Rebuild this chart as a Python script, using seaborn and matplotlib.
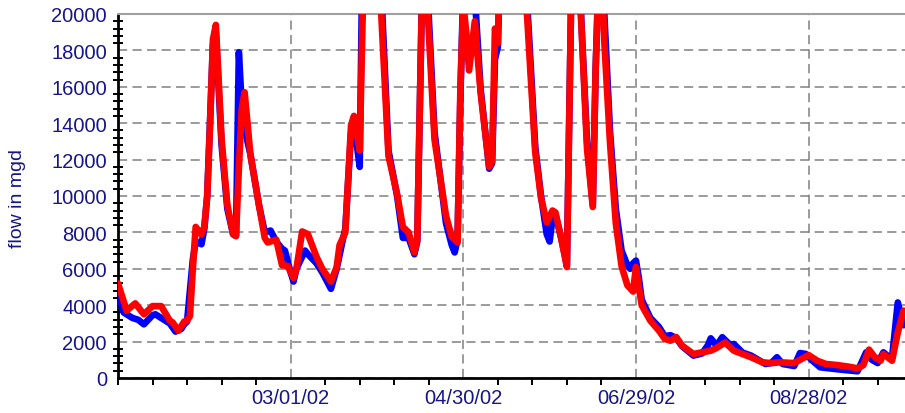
import pandas as pd
import matplotlib
matplotlib.use("Agg")
import matplotlib.pyplot as plt
import matplotlib.dates as mdates
from matplotlib.ticker import MultipleLocator
import seaborn as sns

# day 0 of the record
START = "2001-12-31"
END_DAY = 273.5

# blue series: days after START, flow in mgd
blue_days = [0, 2, 3, 5, 7, 9, 12, 13, 16, 18, 20, 22, 23, 24, 26, 27, 29, 30,
             31, 33, 34, 36, 38, 40, 41, 42, 43, 44, 46, 49, 51, 53, 55, 57, 58,
             60, 61, 62, 65, 66, 69, 71, 74, 76, 78, 79, 81, 82, 84, 85, 88, 91,
             94, 97, 99, 101, 103, 104, 106, 107, 110, 114, 116, 117, 118, 119,
             120, 122, 124, 126, 129, 130, 131, 132, 133, 136, 139, 141, 145,
             147, 149, 150, 151, 152, 154, 156, 158, 160, 163, 165, 166, 167,
             168, 169, 171, 173, 175, 177, 178, 179, 180, 181, 182, 185, 188,
             190, 192, 194, 196, 200, 203, 205, 206, 208, 210, 213, 214, 217,
             220, 225, 227, 229, 231, 235, 237, 239, 241, 244, 250, 257, 260,
             262, 264, 266, 268, 269, 271, 273]
blue_flow = [4700, 3600, 3500, 3300, 3200, 2950, 3450, 3500, 3200, 3000, 2550,
             2700, 2950, 3100, 6500, 7500, 7350, 8200, 10000, 18300, 19000,
             12800, 9300, 7900, 7800, 17900, 15000, 13700, 12300, 9500, 8000,
             8100, 7500, 7100, 7000, 5800, 5300, 6000, 7000, 6800, 6300, 5800,
             4900, 6000, 7500, 8200, 13500, 14000, 11600, 24000, 32000, 23000,
             12500, 10000, 7700, 7700, 6800, 7500, 24000, 23000, 13500, 8500,
             7300, 6900, 7600, 15500, 21500, 20500, 21000, 15900, 11500, 11800,
             17500, 18200, 24000, 33000, 34000, 24000, 12700, 10000, 7900, 7500,
             8800, 9000, 7700, 6200, 26000, 23000, 13000, 9500, 17000, 22000,
             24000, 20000, 13500, 9300, 7000, 6200, 6000, 6300, 6450, 5500,
             4300, 3300, 2800, 2300, 2350, 2200, 1750, 1230, 1350, 1800, 2180,
             1780, 2240, 1780, 1870, 1400, 1230, 770, 820, 1140, 770, 660, 1370,
             1320, 1000, 590, 480, 370, 1410, 1000, 820, 1410, 1140, 1100, 4150,
             2900]

# red series: days after START, flow in mgd
red_days = [0, 3, 6, 9, 12, 15, 18, 19, 21, 23, 24, 25, 26, 27, 29, 30, 31, 32,
            33, 34, 36, 38, 40, 41, 42, 43, 44, 46, 49, 51, 52, 54, 55, 57, 59,
            61, 62, 64, 66, 69, 71, 74, 76, 77, 79, 81, 82, 84, 86, 88, 91, 94,
            97, 99, 101, 103, 104, 106, 107, 110, 114, 116, 118, 119, 120, 121,
            122, 124, 126, 129, 130, 131, 132, 133, 136, 139, 141, 145, 147,
            149, 151, 152, 154, 156, 158, 160, 163, 165, 166, 167, 168, 169,
            171, 173, 175, 177, 179, 180, 181, 182, 185, 188, 190, 192, 194,
            196, 200, 203, 206, 208, 211, 214, 217, 220, 224, 227, 230, 235,
            237, 240, 243, 246, 250, 254, 257, 259, 261, 263, 265, 266, 269,
            271, 273]
red_flow = [5200, 3700, 4100, 3500, 3950, 3950, 3150, 3050, 2600, 3100, 3150,
            3400, 6000, 8300, 7900, 8300, 10000, 14000, 18600, 19400, 13100,
            9500, 7900, 7800, 11500, 14800, 15700, 12300, 9500, 7700, 7450,
            7550, 7600, 6200, 6150, 5500, 6000, 8050, 7900, 6650, 6000, 5300,
            6100, 7300, 8000, 13900, 14400, 12500, 27000, 32000, 21500, 12200,
            10100, 8300, 8000, 6900, 7600, 24000, 22000, 13100, 8900, 7750,
            7450, 16000, 20600, 19000, 16900, 19600, 15700, 11600, 11900, 19200,
            18400, 24000, 33000, 34000, 23000, 12400, 9900, 8550, 9200, 9100,
            7700, 6100, 26000, 23000, 12600, 9400, 17000, 22000, 23000, 18500,
            12900, 8500, 6150, 5100, 4750, 6100, 5000, 4000, 3150, 2600, 2150,
            2050, 2250, 1780, 1320, 1410, 1500, 1650, 1950, 1500, 1320, 1140,
            860, 820, 860, 820, 1000, 1260, 950, 770, 710, 620, 530, 700, 1560,
            1140, 950, 1320, 950, 2500, 3700]

tick_labels = ["03/01/02", "04/30/02", "06/29/02", "08/28/02"]

navy = "#16168a"
start = pd.Timestamp(START)


def to_frame(days, flow):
    return pd.DataFrame({"date": start + pd.to_timedelta(days, unit="D"),
                         "flow": flow})


sns.set_style("white")
plt.rcParams["font.family"] = ["Liberation Sans", "DejaVu Sans"]

fig = plt.figure(figsize=(9.05, 4.14), dpi=100)
ax = fig.add_axes([118 / 905, 1 - 379 / 414, 787 / 905, 364 / 414])

sns.lineplot(data=to_frame(blue_days, blue_flow), x="date", y="flow",
             color="#0000ff", lw=4.8, ax=ax, zorder=3)
sns.lineplot(data=to_frame(red_days, red_flow), x="date", y="flow",
             color="#ff0000", lw=4.8, ax=ax, zorder=4)

ax.set_xlim(start, start + pd.Timedelta(days=END_DAY))
ax.set_ylim(0, 20000)

ax.set_xticks(pd.to_datetime(tick_labels, format="%m/%d/%y"))
ax.xaxis.set_major_formatter(mdates.DateFormatter("%m/%d/%y"))
ax.set_xticks(pd.date_range(start, periods=23, freq="12D"), minor=True)
ax.yaxis.set_major_locator(MultipleLocator(2000))
ax.yaxis.set_minor_locator(MultipleLocator(400))

ax.grid(True, which="major", color="#808080", ls=(0, (6, 3.5)), lw=1.1)
ax.set_axisbelow(True)

ax.tick_params(axis="y", which="major", direction="out", length=6.5,
               width=1.4, color="black", labelsize=14.5, labelcolor=navy, pad=1.5)
ax.tick_params(axis="y", which="minor", direction="inout", length=7,
               width=1.4, color="black", left=True)
ax.tick_params(axis="x", which="major", direction="inout", length=11,
               width=1.4, color="black", labelsize=14.5, labelcolor=navy, pad=2)
ax.tick_params(axis="x", which="minor", direction="out", length=5,
               width=1.4, color="black", bottom=True)

for side in ["left", "bottom"]:
    ax.spines[side].set_color("black")
    ax.spines[side].set_linewidth(2)
ax.spines["top"].set_color("#a0a0a0")
ax.spines["top"].set_linewidth(1.5)
ax.spines["right"].set_visible(False)

ax.set_xlabel("")
ax.set_ylabel("")
fig.text(18 / 905, 1 - 199 / 414, "flow in mgd", rotation=90, color=navy,
         fontsize=14, ha="center", va="center")

fig.savefig("out.png", dpi=100)
